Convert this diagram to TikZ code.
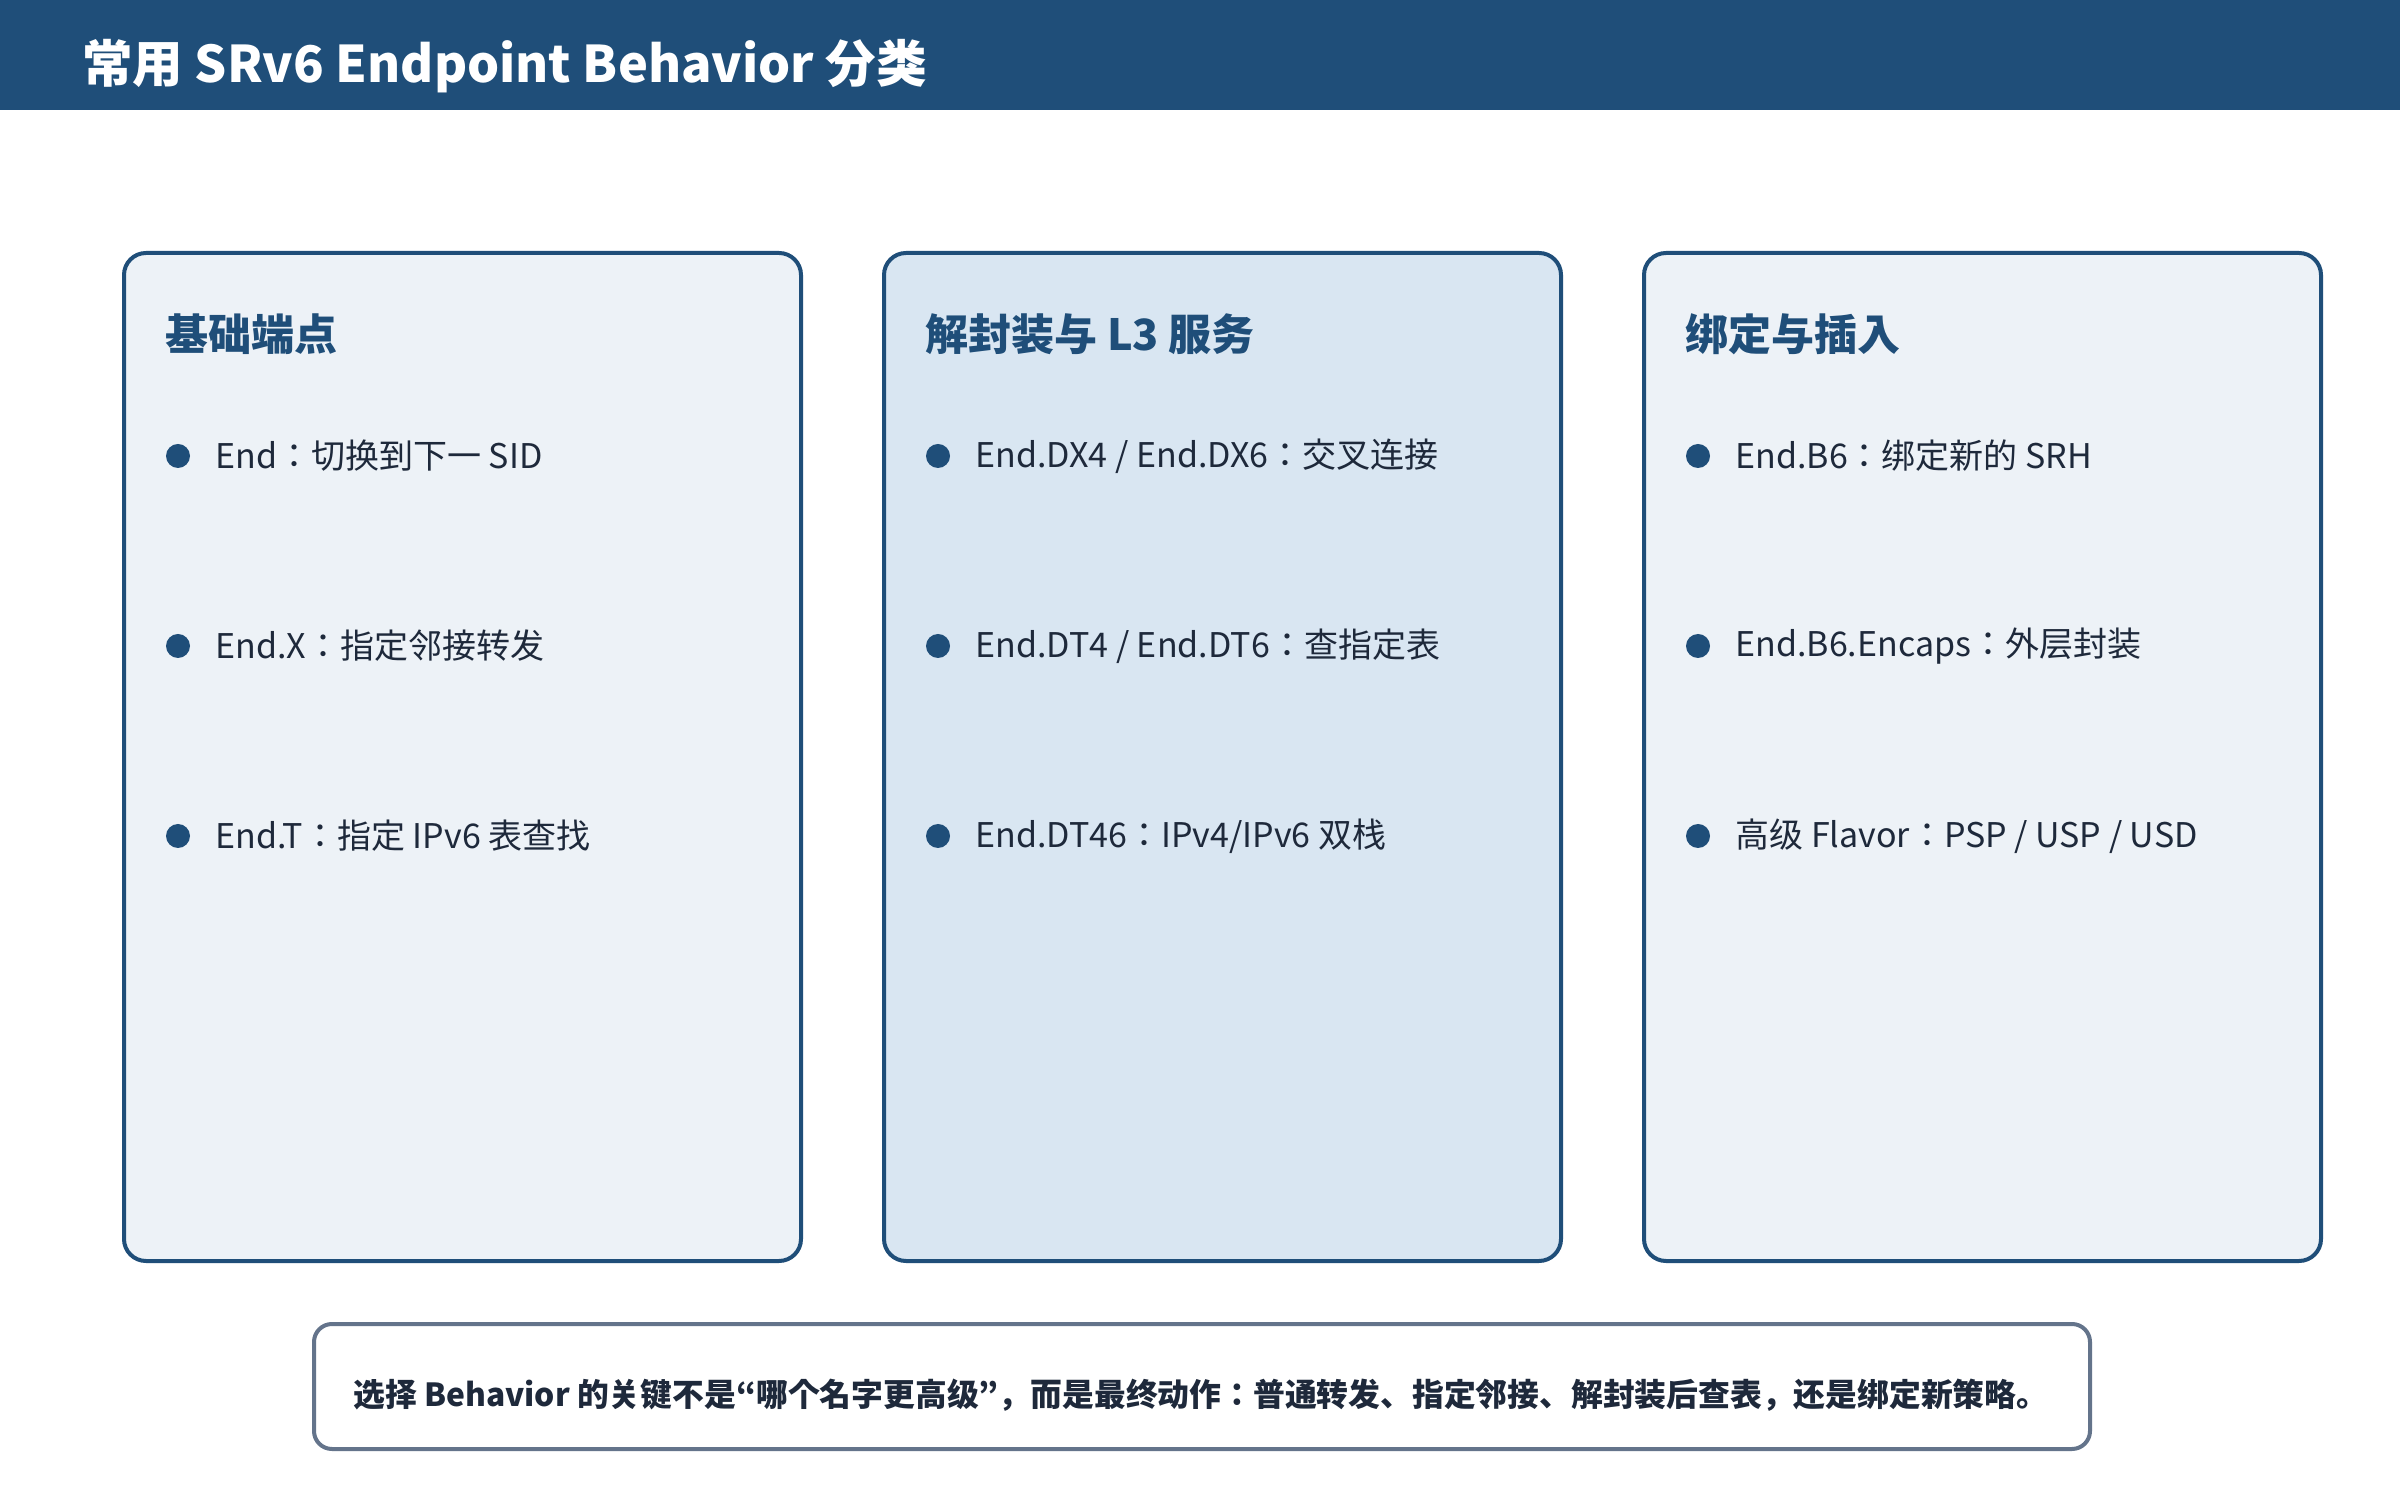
\documentclass[tikz,border=0pt]{standalone}
\usepackage{fontspec}
\setmainfont{Noto Sans CJK JP}
\usetikzlibrary{positioning}

\definecolor{hdrblue}{HTML}{1F4E79}
\definecolor{cardpale}{HTML}{EDF2F7}
\definecolor{cardmid}{HTML}{D9E6F2}
\definecolor{inktext}{HTML}{1E293B}
\definecolor{notegray}{HTML}{64748B}

\begin{document}
\begin{tikzpicture}[x=1pt, y=1pt,
    card/.style={draw=hdrblue, line width=4pt, rounded corners=22pt,
        minimum width=677pt, minimum height=1008pt, anchor=north west, inner sep=0pt},
    cardhead/.style={anchor=west, inner sep=0pt, text=hdrblue,
        font=\fontsize{43}{50}\selectfont\bfseries},
    dot/.style={circle, fill=hdrblue, inner sep=0pt, minimum size=24pt},
    item/.style={anchor=west, inner sep=0pt, text=inktext,
        font=\fontsize{34}{40}\selectfont}]

    % 1. Vászon és fejléc
    \useasboundingbox (0,0) rectangle (2400,1500);
    \fill[white] (0,0) rectangle (2400,1500);
    \fill[hdrblue] (0,1390) rectangle (2400,1500);
    \node[anchor=west, inner sep=0pt, text=white, font=\fontsize{50.5}{60}\selectfont\bfseries]
        (title) at (82,1434) {常用 SRv6 Endpoint Behavior 分类};

    % 2. Három kártya (card-1 .. card-3)
    \foreach \n/\x/\col in {1/122/cardpale, 2/882/cardmid, 3/1642/cardpale} {
        \node[card, fill=\col] (card-\n) at (\x,1249) {};
    }

    % 3. Kártyacímek
    \node[cardhead, xshift=43pt, yshift=-83pt] (head-1) at (card-1.north west) {基础端点};
    \node[cardhead, xshift=43pt, yshift=-83pt] (head-2) at (card-2.north west) {解封装与 L3 服务};
    \node[cardhead, xshift=43pt, yshift=-83pt] (head-3) at (card-3.north west) {绑定与插入};

    % 4. Pontok és sorok (dot-kártya-sor, item-kártya-sor)
    \foreach \r/\txt in {0/{End：切换到下一 SID}, 1/{End.X：指定邻接转发}, 2/{End.T：指定 IPv6 表查找}} {
        \node[dot, xshift=56pt, yshift=-205-190*\r] (dot-1-\r) at (card-1.north west) {};
        \node[item, right=25pt of dot-1-\r] (item-1-\r) {\txt};
    }
    \foreach \r/\txt in {0/{End.DX4 / End.DX6：交叉连接}, 1/{End.DT4 / End.DT6：查指定表}, 2/{End.DT46：IPv4/IPv6 双栈}} {
        \node[dot, xshift=56pt, yshift=-205-190*\r] (dot-2-\r) at (card-2.north west) {};
        \node[item, right=25pt of dot-2-\r] (item-2-\r) {\txt};
    }
    \foreach \r/\txt in {0/{End.B6：绑定新的 SRH}, 1/{End.B6.Encaps：外层封装}, 2/{高级 Flavor：PSP / USP / USD}} {
        \node[dot, xshift=56pt, yshift=-205-190*\r] (dot-3-\r) at (card-3.north west) {};
        \node[item, right=25pt of dot-3-\r] (item-3-\r) {\txt};
    }

    % 5. Alsó megjegyzés
    \node[draw=notegray, fill=white, line width=4pt, rounded corners=18pt,
        minimum width=1776pt, minimum height=125pt, anchor=north west] (note) at (312,178) {};
    \node[anchor=west, inner sep=0pt, text=inktext, font=\fontsize{31.8}{38}\selectfont\bfseries,
        xshift=41pt, yshift=-9pt] (note-text) at (note.west)
        {选择 Behavior 的关键不是“哪个名字更高级”，而是最终动作：普通转发、指定邻接、解封装后查表，还是绑定新策略。};
\end{tikzpicture}
\end{document}
